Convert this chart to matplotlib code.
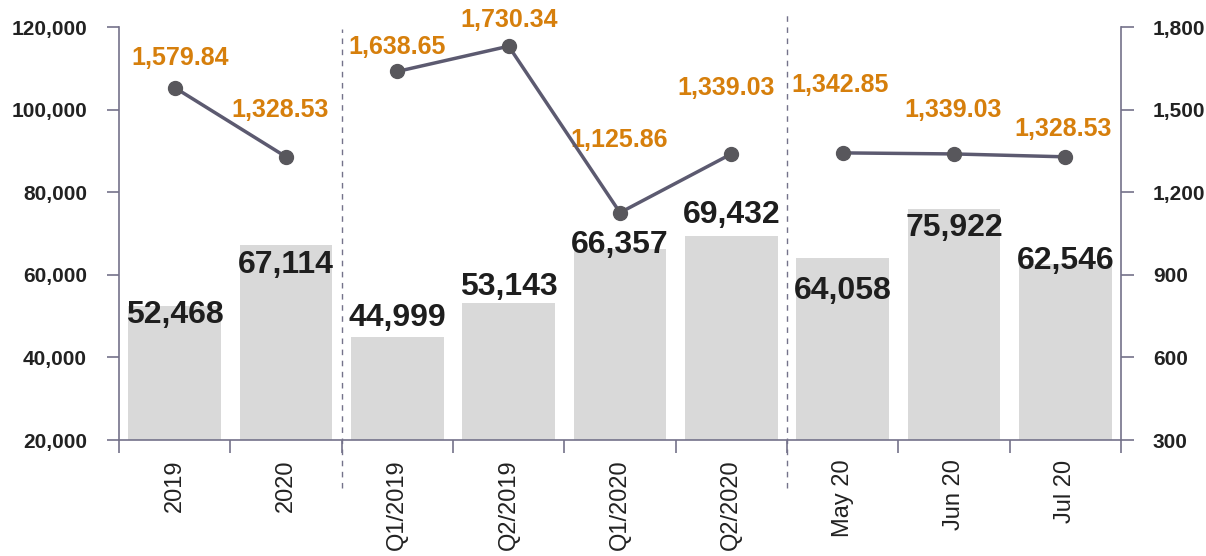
import matplotlib.pyplot as plt
import numpy as np

plt.rcParams['font.family'] = ['Liberation Sans', 'DejaVu Sans']

categories = ['2019', '2020', 'Q1/2019', 'Q2/2019', 'Q1/2020', 'Q2/2020', 'May 20', 'Jun 20', 'Jul 20']
bar_values = [52468, 67114, 44999, 53143, 66357, 69432, 64058, 75922, 62546]
line_values = [1579.84, 1328.53, 1638.65, 1730.34, 1125.86, 1339.03, 1342.85, 1339.03, 1328.53]
groups = [[0, 1], [2, 3, 4, 5], [6, 7, 8]]

# label offsets in pixels (hand placed like the original)
bar_lbl_dy = [-9, -20, 19, 16, 4, 21, -33, -19, 3]
line_lbl_off = [(5, 30), (-6, 47), (0, 24), (0, 26), (-1, 73), (-5, 66), (-3, 68), (-1, 44), (-2, 28)]

axis_col = '#74728a'
orange = '#d67f0c'

fig = plt.figure(figsize=(12.06, 5.56), dpi=100)
ax = fig.add_axes([0.0987, 0.2086, 0.9295 - 0.0987, 0.9514 - 0.2086])
ax2 = ax.twinx()

x = np.arange(len(categories))
ax.bar(x, bar_values, width=0.83, color='#d9d9d9', zorder=1)
ax.set_ylim(20000, 120000)
ax.set_xlim(-0.5, len(categories) - 0.5)
ax.set_yticks(range(20000, 120001, 20000))
ax.set_yticklabels([f'{v:,}' for v in range(20000, 120001, 20000)], fontsize=15, fontweight='bold', color='#222222')

for i, v in enumerate(bar_values):
    ax.annotate(f'{v:,}', (x[i], v), xytext=(0, bar_lbl_dy[i]), textcoords='offset pixels',
                ha='center', va='center', fontsize=23, fontweight='bold', color='#1e1e1e', zorder=3)

ax.set_xticks(x)
ax.set_xticklabels(categories, rotation=90, fontsize=17, color='#222222')
ax.set_xticks(np.arange(-0.5, len(categories), 1), minor=True)
ax.tick_params(axis='x', which='major', length=0, pad=14)
ax.tick_params(axis='x', which='minor', length=9, color=axis_col, width=1.2)
ax.tick_params(axis='y', length=9, color=axis_col, width=1.2, pad=14)

for s in ['top', 'right']:
    ax.spines[s].set_visible(False)
for s in ['left', 'bottom']:
    ax.spines[s].set_color(axis_col)
    ax.spines[s].set_linewidth(1.2)
for s in ['top', 'left', 'bottom']:
    ax2.spines[s].set_visible(False)
ax2.spines['right'].set_color(axis_col)
ax2.spines['right'].set_linewidth(1.2)

ax2.set_ylim(300, 1800)
ax2.set_yticks(range(300, 1801, 300))
ax2.set_yticklabels([f'{v:,}' for v in range(300, 1801, 300)], fontsize=15, fontweight='bold', color='#222222')
ax2.tick_params(axis='y', length=9, color=axis_col, width=1.2, pad=14)

for g in groups:
    ax2.plot([x[i] for i in g], [line_values[i] for i in g], color='#5c5a70', linewidth=2.5,
             marker='o', markersize=10, markerfacecolor='#58575c', markeredgecolor='#58575c', zorder=4)

for i, v in enumerate(line_values):
    dx, dy = line_lbl_off[i]
    ax2.annotate(f'{v:,.2f}', (x[i], v), xytext=(dx, dy), textcoords='offset pixels',
                 ha='center', va='center', fontsize=18, fontweight='bold', color=orange)

ax.axvline(1.5, ymin=-0.116, ymax=0.995, color=axis_col, linestyle=(0, (4, 4)), linewidth=1, clip_on=False)
ax.axvline(5.5, ymin=-0.116, ymax=1.03, color=axis_col, linestyle=(0, (4, 4)), linewidth=1, clip_on=False)

fig.savefig('out.png', dpi=100)
